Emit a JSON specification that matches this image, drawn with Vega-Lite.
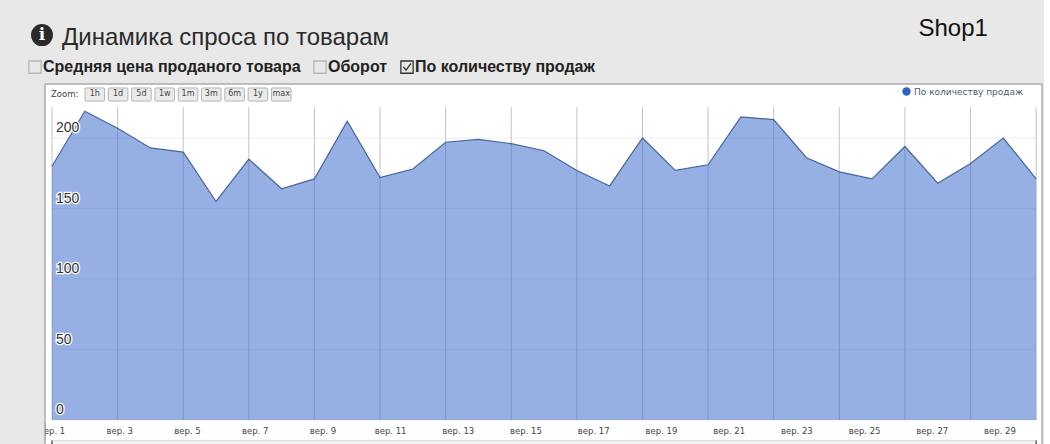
{"$schema":"https://vega.github.io/schema/vega-lite/v6.json","width":1044,"height":444,"autosize":"none","padding":{"left":0,"top":0,"right":6,"bottom":0},"background":"#ffffff","config":{"view":{"fill":"#e8e8e8","stroke":null}},"title":{"text":"Динамика спроса по товарам","anchor":"start","frame":"group","dx":62,"dy":69,"offset":0,"baseline":"alphabetic","font":"Liberation Sans","fontSize":24,"fontWeight":"normal","color":"#2b2b2b"},"datasets":{"one":[{"note":"panel"}],"ends":[{"p":0},{"p":30}],"sales":[{"point":0,"sales":180,"series":"По количеству продаж"},{"point":1,"sales":219,"series":"По количеству продаж"},{"point":2,"sales":207,"series":"По количеству продаж"},{"point":3,"sales":193,"series":"По количеству продаж"},{"point":4,"sales":190,"series":"По количеству продаж"},{"point":5,"sales":155,"series":"По количеству продаж"},{"point":6,"sales":185,"series":"По количеству продаж"},{"point":7,"sales":164,"series":"По количеству продаж"},{"point":8,"sales":171,"series":"По количеству продаж"},{"point":9,"sales":212,"series":"По количеству продаж"},{"point":10,"sales":172,"series":"По количеству продаж"},{"point":11,"sales":178,"series":"По количеству продаж"},{"point":12,"sales":197,"series":"По количеству продаж"},{"point":13,"sales":199,"series":"По количеству продаж"},{"point":14,"sales":196,"series":"По количеству продаж"},{"point":15,"sales":191,"series":"По количеству продаж"},{"point":16,"sales":177,"series":"По количеству продаж"},{"point":17,"sales":166,"series":"По количеству продаж"},{"point":18,"sales":200,"series":"По количеству продаж"},{"point":19,"sales":177,"series":"По количеству продаж"},{"point":20,"sales":181,"series":"По количеству продаж"},{"point":21,"sales":215,"series":"По количеству продаж"},{"point":22,"sales":213,"series":"По количеству продаж"},{"point":23,"sales":186,"series":"По количеству продаж"},{"point":24,"sales":176,"series":"По количеству продаж"},{"point":25,"sales":171,"series":"По количеству продаж"},{"point":26,"sales":194,"series":"По количеству продаж"},{"point":27,"sales":168,"series":"По количеству продаж"},{"point":28,"sales":182,"series":"По количеству продаж"},{"point":29,"sales":200,"series":"По количеству продаж"},{"point":30,"sales":171,"series":"По количеству продаж"}],"ygrid":[{"v":0},{"v":50},{"v":100},{"v":150},{"v":200}],"xgrid":[{"p":0},{"p":2},{"p":4},{"p":6},{"p":8},{"p":10},{"p":12},{"p":14},{"p":16},{"p":18},{"p":20},{"p":22},{"p":24},{"p":26},{"p":28},{"p":30}],"days":[{"day":1,"label":"вер. 1"},{"day":3,"label":"вер. 3"},{"day":5,"label":"вер. 5"},{"day":7,"label":"вер. 7"},{"day":9,"label":"вер. 9"},{"day":11,"label":"вер. 11"},{"day":13,"label":"вер. 13"},{"day":15,"label":"вер. 15"},{"day":17,"label":"вер. 17"},{"day":19,"label":"вер. 19"},{"day":21,"label":"вер. 21"},{"day":23,"label":"вер. 23"},{"day":25,"label":"вер. 25"},{"day":27,"label":"вер. 27"},{"day":29,"label":"вер. 29"}],"options":[{"option":"Средняя цена проданого товара"},{"option":"Оборот"},{"option":"По количеству продаж"}],"buttons":[{"btn":"1h"},{"btn":"1d"},{"btn":"5d"},{"btn":"1w"},{"btn":"1m"},{"btn":"3m"},{"btn":"6m"},{"btn":"1y"},{"btn":"max"}]},"resolve":{"scale":{"x":"independent"}},"layer":[{"layer":[{"data":{"name":"one"},"mark":{"type":"rect","fill":"#ffffff","stroke":"#8a8a8a","strokeWidth":1},"encoding":{"x":{"datum":-0.213,"type":"quantitative","axis":null,"scale":{"domain":[-1.585,30.24],"nice":false,"zero":false}},"x2":{"datum":30.18},"y":{"datum":238.3,"type":"quantitative","axis":null,"scale":{"domain":[-17.02,297.9],"nice":false,"zero":false}},"y2":{"datum":-18}}},{"data":{"name":"one"},"mark":{"type":"rect","fill":"#f2f2f2","stroke":"#dddddd","strokeWidth":1},"encoding":{"x":{"datum":0,"type":"quantitative","axis":null,"scale":{"domain":[-1.585,30.24],"nice":false,"zero":false}},"x2":{"datum":30},"y":{"datum":-14.5,"type":"quantitative","axis":null,"scale":{"domain":[-17.02,297.9],"nice":false,"zero":false}},"y2":{"datum":-18}}},{"data":{"name":"ends"},"mark":{"type":"rule","color":"#222222","strokeWidth":1},"encoding":{"x":{"field":"p","type":"quantitative","axis":null,"scale":{"domain":[-1.585,30.24],"nice":false,"zero":false}},"y":{"datum":-14.5,"type":"quantitative","axis":null,"scale":{"domain":[-17.02,297.9],"nice":false,"zero":false}},"y2":{"datum":-18}}},{"data":{"name":"ygrid"},"mark":{"type":"rule","color":"#eeeeee","strokeWidth":1},"encoding":{"x":{"datum":0,"type":"quantitative","axis":null,"scale":{"domain":[-1.585,30.24],"nice":false,"zero":false}},"x2":{"datum":30},"y":{"field":"v","type":"quantitative","axis":null,"scale":{"domain":[-17.02,297.9],"nice":false,"zero":false}}}},{"data":{"name":"xgrid"},"mark":{"type":"rule","color":"#c4c4c4","strokeWidth":1},"encoding":{"x":{"field":"p","type":"quantitative","axis":null,"scale":{"domain":[-1.585,30.24],"nice":false,"zero":false}},"y":{"datum":0,"type":"quantitative","axis":null,"scale":{"domain":[-17.02,297.9],"nice":false,"zero":false}},"y2":{"datum":222}}},{"data":{"name":"sales"},"mark":{"type":"area","fillOpacity":0.5},"encoding":{"x":{"field":"point","type":"quantitative","axis":null,"scale":{"domain":[-1.585,30.24],"nice":false,"zero":false}},"y":{"field":"sales","type":"quantitative","axis":null,"scale":{"domain":[-17.02,297.9],"nice":false,"zero":false}},"fill":{"field":"series","type":"nominal","scale":{"range":["#2f61c7"]},"legend":{"title":null,"orient":"none","legendX":902,"legendY":87,"symbolType":"circle","symbolSize":70,"symbolOpacity":1,"symbolStrokeWidth":0,"symbolFillColor":"#3f62b0","labelFont":"DejaVu Sans","labelFontSize":9,"labelColor":"#4a5a70","labelOffset":3}}}},{"data":{"name":"sales"},"mark":{"type":"line","color":"#46659f","strokeWidth":1.2},"encoding":{"x":{"field":"point","type":"quantitative","axis":null,"scale":{"domain":[-1.585,30.24],"nice":false,"zero":false}},"y":{"field":"sales","type":"quantitative","axis":null,"scale":{"domain":[-17.02,297.9],"nice":false,"zero":false}}}},{"data":{"name":"ygrid"},"mark":{"type":"text","align":"left","baseline":"middle","dy":-10,"font":"Liberation Sans","fontSize":14,"stroke":"#ffffff","strokeWidth":2.5,"fill":"#ffffff"},"encoding":{"x":{"datum":0.12,"type":"quantitative","axis":null,"scale":{"domain":[-1.585,30.24],"nice":false,"zero":false}},"y":{"field":"v","type":"quantitative","axis":null,"scale":{"domain":[-17.02,297.9],"nice":false,"zero":false}},"text":{"field":"v","type":"quantitative"}}},{"data":{"name":"ygrid"},"mark":{"type":"text","align":"left","baseline":"middle","dy":-10,"font":"Liberation Sans","fontSize":14,"fill":"#333333"},"encoding":{"x":{"datum":0.12,"type":"quantitative","axis":null,"scale":{"domain":[-1.585,30.24],"nice":false,"zero":false}},"y":{"field":"v","type":"quantitative","axis":null,"scale":{"domain":[-17.02,297.9],"nice":false,"zero":false}},"text":{"field":"v","type":"quantitative"}}},{"data":{"name":"options"},"mark":{"type":"point","opacity":0,"filled":false},"encoding":{"x":{"datum":10,"type":"quantitative","axis":null,"scale":{"domain":[-1.585,30.24],"nice":false,"zero":false}},"y":{"datum":100,"type":"quantitative","axis":null,"scale":{"domain":[-17.02,297.9],"nice":false,"zero":false}},"shape":{"field":"option","type":"nominal","scale":{"domain":["Средняя цена проданого товара","Оборот","По количеству продаж"],"range":["M-1,-1H1V1H-1Z","M-1,-1H1V1H-1Z","M-1,-1H1V1H-1ZM-0.6,-0.05L-0.15,0.5L0.65,-0.6"]},"legend":{"title":null,"orient":"none","legendX":27,"legendY":59,"direction":"horizontal","columns":3,"columnPadding":10,"symbolSize":150,"symbolOpacity":1,"symbolFillColor":"#e2e2e2","symbolStrokeWidth":1.3,"labelFont":"Liberation Sans","labelFontSize":16,"labelFontWeight":"bold","labelColor":"#222222","labelOffset":0,"labelLimit":320}},"stroke":{"field":"option","type":"nominal","scale":{"domain":["Средняя цена проданого товара","Оборот","По количеству продаж"],"range":["#b8b8b8","#b8b8b8","#333333"]},"legend":{"title":null,"orient":"none","legendX":27,"legendY":59,"direction":"horizontal","columns":3,"columnPadding":10,"symbolSize":150,"symbolOpacity":1,"symbolFillColor":"#e2e2e2","symbolStrokeWidth":1.3,"labelFont":"Liberation Sans","labelFontSize":16,"labelFontWeight":"bold","labelColor":"#222222","labelOffset":0,"labelLimit":320}}}},{"data":{"name":"one"},"mark":{"type":"point","filled":true,"color":"#2a2a2a","opacity":1,"size":484,"shape":"circle"},"encoding":{"x":{"datum":-0.305,"type":"quantitative","axis":null,"scale":{"domain":[-1.585,30.24],"nice":false,"zero":false}},"y":{"datum":273,"type":"quantitative","axis":null,"scale":{"domain":[-17.02,297.9],"nice":false,"zero":false}}}},{"data":{"name":"one"},"mark":{"type":"text","text":"i","font":"DejaVu Serif","fontWeight":"bold","fontSize":17,"color":"#ffffff","align":"center","baseline":"middle"},"encoding":{"x":{"datum":-0.305,"type":"quantitative","axis":null,"scale":{"domain":[-1.585,30.24],"nice":false,"zero":false}},"y":{"datum":273,"type":"quantitative","axis":null,"scale":{"domain":[-17.02,297.9],"nice":false,"zero":false}}}},{"data":{"name":"one"},"mark":{"type":"text","text":"Shop1","font":"Liberation Sans","fontSize":24,"color":"#111111","align":"center","baseline":"middle"},"encoding":{"x":{"datum":27.47,"type":"quantitative","axis":null,"scale":{"domain":[-1.585,30.24],"nice":false,"zero":false}},"y":{"datum":277,"type":"quantitative","axis":null,"scale":{"domain":[-17.02,297.9],"nice":false,"zero":false}}}},{"data":{"name":"one"},"mark":{"type":"text","text":"Zoom:","font":"DejaVu Sans","fontSize":8.5,"color":"#444444","align":"left","baseline":"middle"},"encoding":{"x":{"datum":-0.03,"type":"quantitative","axis":null,"scale":{"domain":[-1.585,30.24],"nice":false,"zero":false}},"y":{"datum":231,"type":"quantitative","axis":null,"scale":{"domain":[-17.02,297.9],"nice":false,"zero":false}}}}]},{"layer":[{"data":{"name":"days"},"mark":{"type":"text","font":"DejaVu Sans","fontSize":8.5,"color":"#444444","align":"center","baseline":"middle"},"encoding":{"x":{"field":"day","type":"quantitative","axis":null,"scale":{"domain":[-0.536,30.3],"nice":false,"zero":false}},"y":{"datum":-8,"type":"quantitative","axis":null,"scale":{"domain":[-17.02,297.9],"nice":false,"zero":false}},"text":{"field":"label","type":"nominal"}}},{"data":{"name":"one"},"mark":{"type":"rect","fill":"#e8e8e8"},"encoding":{"x":{"datum":-0.536,"type":"quantitative","axis":null,"scale":{"domain":[-0.536,30.3],"nice":false,"zero":false}},"x2":{"datum":0.793},"y":{"datum":-1,"type":"quantitative","axis":null,"scale":{"domain":[-17.02,297.9],"nice":false,"zero":false}},"y2":{"datum":-14}}},{"data":{"name":"one"},"mark":{"type":"rule","color":"#8a8a8a","strokeWidth":1},"encoding":{"x":{"datum":0.793,"type":"quantitative","axis":null,"scale":{"domain":[-0.536,30.3],"nice":false,"zero":false}},"y":{"datum":-1,"type":"quantitative","axis":null,"scale":{"domain":[-17.02,297.9],"nice":false,"zero":false}},"y2":{"datum":-14}}}]},{"layer":[{"data":{"name":"buttons"},"mark":{"type":"rect","fill":"#eaeaea","stroke":"#b5b5b5","strokeWidth":1,"cornerRadius":1},"encoding":{"x":{"field":"btn","type":"nominal","axis":null,"sort":null,"scale":{"type":"band","domain":["1h","1d","5d","1w","1m","3m","6m","1y","max"],"range":[85,291],"paddingInner":0.16,"paddingOuter":0}},"y":{"datum":235.5,"type":"quantitative","axis":null,"scale":{"domain":[-17.02,297.9],"nice":false,"zero":false}},"y2":{"datum":226.2}}},{"data":{"name":"buttons"},"mark":{"type":"text","font":"DejaVu Sans","fontSize":8,"color":"#444444","align":"center","baseline":"middle"},"encoding":{"x":{"field":"btn","type":"nominal","axis":null,"sort":null,"scale":{"type":"band","domain":["1h","1d","5d","1w","1m","3m","6m","1y","max"],"range":[85,291],"paddingInner":0.16,"paddingOuter":0}},"y":{"datum":231,"type":"quantitative","axis":null,"scale":{"domain":[-17.02,297.9],"nice":false,"zero":false}},"text":{"field":"btn","type":"nominal"}}}]}]}
